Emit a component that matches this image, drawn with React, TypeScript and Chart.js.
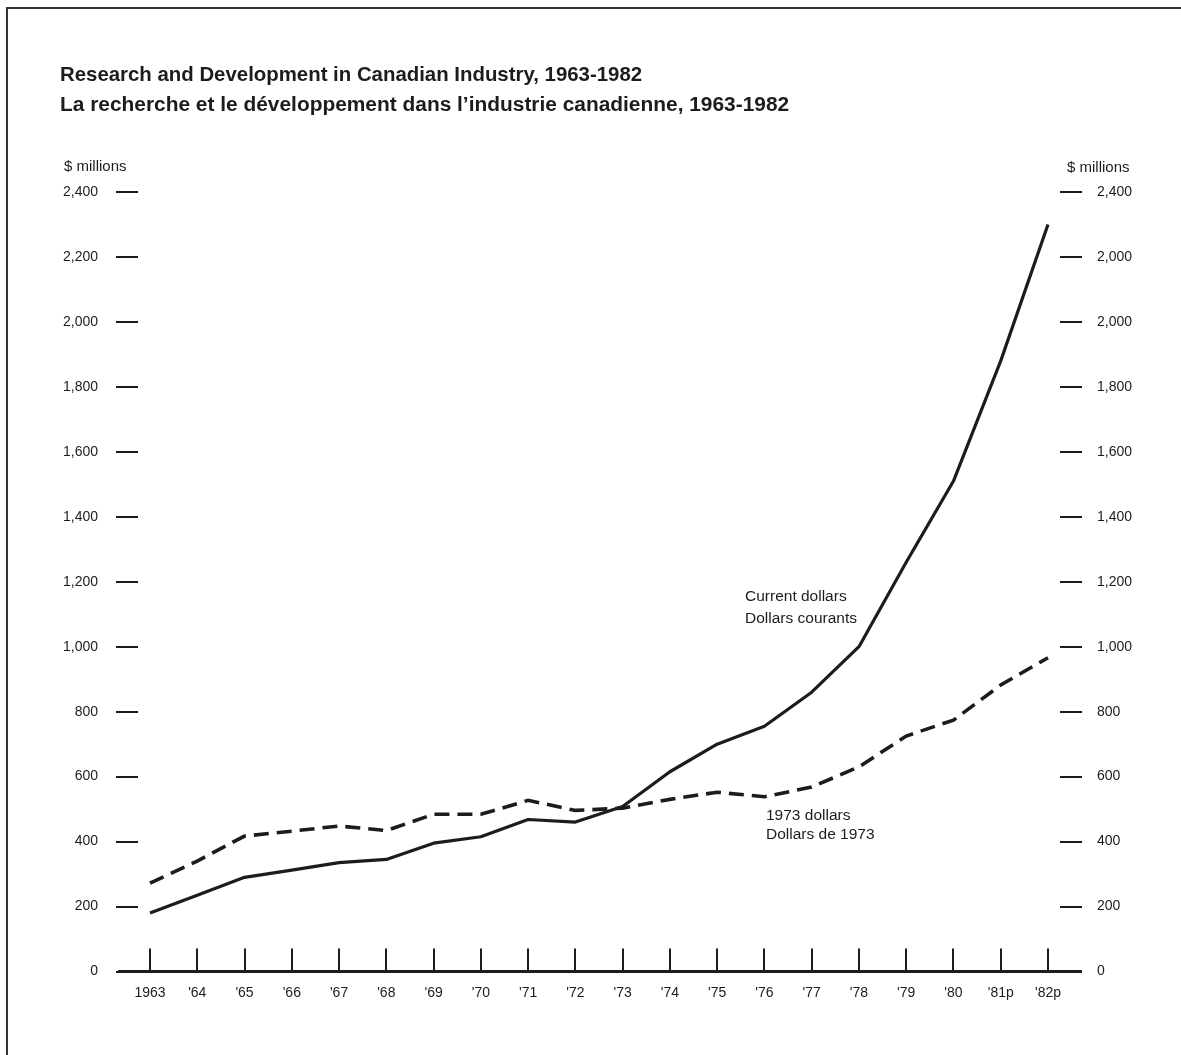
import React, { useEffect, useRef } from "react";
import { Chart, registerables } from "chart.js";

Chart.register(...registerables);

const xLabels = ["1963", "'64", "'65", "'66", "'67", "'68", "'69", "'70", "'71", "'72", "'73", "'74", "'75", "'76", "'77", "'78", "'79", "'80", "'81p", "'82p"];
const currentDollars = [180, 235, 290, 312, 335, 345, 395, 415, 468, 460, 508, 615, 700, 755, 860, 1000, 1260, 1510, 1880, 2300];
const constantDollars = [272, 340, 417, 432, 448, 434, 484, 484, 527, 496, 503, 530, 552, 538, 568, 630, 725, 774, 882, 966];
const leftTickLabels = ["0", "200", "400", "600", "800", "1,000", "1,200", "1,400", "1,600", "1,800", "2,000", "2,200", "2,400"];
const rightTickLabels = ["0", "200", "400", "600", "800", "1,000", "1,200", "1,400", "1,600", "1,800", "2,000", "2,000", "2,400"];
const titleLines = [
  "Research and Development in Canadian Industry, 1963-1982",
  "La recherche et le développement dans l’industrie canadienne, 1963-1982",
];
const unitLabel = "$ millions";
const currentLabel = ["Current dollars", "Dollars courants"];
const constantLabel = ["1973 dollars", "Dollars de 1973"];

const FONT = "'Liberation Sans', Arial, Helvetica, sans-serif";
const INK = "#1c1c1c";

const decorations = {
  id: "decorations",
  afterDraw(chart: any) {
    const ctx = chart.ctx;
    const xs = chart.scales.x;
    const ys = chart.scales.y;
    const y0 = ys.getPixelForValue(0);
    ctx.save();
    // frame (top and left edges)
    ctx.strokeStyle = "#333";
    ctx.lineWidth = 2;
    ctx.beginPath();
    ctx.moveTo(7, 1055);
    ctx.lineTo(7, 8);
    ctx.lineTo(1181, 8);
    ctx.stroke();

    // x axis line
    ctx.strokeStyle = INK;
    ctx.lineWidth = 3;
    ctx.beginPath();
    ctx.moveTo(118, y0);
    ctx.lineTo(1082, y0);
    ctx.stroke();
    // vertical year ticks
    ctx.lineWidth = 2;
    for (let i = 0; i < xLabels.length; i++) {
      const px = Math.round(xs.getPixelForValue(i));
      ctx.beginPath();
      ctx.moveTo(px, y0 - 23);
      ctx.lineTo(px, y0);
      ctx.stroke();
    }

    // titles
    ctx.fillStyle = INK;
    ctx.textBaseline = "middle";
    ctx.textAlign = "left";
    ctx.font = `bold 20.4px ${FONT}`;
    ctx.fillText(titleLines[0], 60, 75);
    ctx.font = `bold 20.9px ${FONT}`;
    ctx.fillText(titleLines[1], 60, 105);

    // unit labels
    ctx.font = `15px ${FONT}`;
    ctx.fillText(unitLabel, 64, 167);
    ctx.fillText(unitLabel, 1067, 168);

    // series annotations
    ctx.font = `15.5px ${FONT}`;
    ctx.fillText(currentLabel[0], 745, 597);
    ctx.fillText(currentLabel[1], 745, 619);
    ctx.fillText(constantLabel[0], 766, 816);
    ctx.fillText(constantLabel[1], 766, 835);
    ctx.restore();
  },
};

export default function App() {
  const ref = useRef<HTMLCanvasElement | null>(null);
  useEffect(() => {
    if (!ref.current) return;
    const chart = new Chart(ref.current, {
      type: "line",
      data: {
        datasets: [
          {
            label: "Current dollars",
            data: currentDollars.map((v, i) => ({ x: i, y: v })),
            borderColor: INK,
            borderWidth: 3.2,
            pointRadius: 0,
            tension: 0,
            fill: false,
            borderJoinStyle: "round",
            yAxisID: "y",
          },
          {
            label: "1973 dollars",
            data: constantDollars.map((v, i) => ({ x: i, y: v })),
            borderColor: INK,
            borderWidth: 3.6,
            borderDash: [15, 8],
            pointRadius: 0,
            tension: 0,
            fill: false,
            yAxisID: "y",
          },
        ],
      },
      options: {
        responsive: false,
        animation: false,
        devicePixelRatio: 1,
        layout: { padding: { top: 192, left: 0, right: 0, bottom: 0 } },
        plugins: { legend: { display: false }, tooltip: { enabled: false }, title: { display: false } },
        scales: {
          x: {
            type: "linear",
            min: -0.254,
            max: 19.254,
            afterBuildTicks: (scale: any) => {
              scale.ticks = xLabels.map((_, i) => ({ value: i }));
            },
            afterFit: (scale: any) => {
              scale.height = 83.5;
            },
            grid: { display: false },
            border: { display: false },
            ticks: {
              autoSkip: false,
              maxRotation: 0,
              padding: 5,
              color: INK,
              font: { family: FONT, size: 14 },
              callback: (v: any) => xLabels[Math.round(v)] ?? "",
            },
          },
          y: {
            type: "linear",
            position: "left",
            min: 0,
            max: 2400,
            afterFit: (scale: any) => {
              scale.width = 138;
            },
            grid: { display: true, drawOnChartArea: false, drawTicks: true, tickLength: 22, color: INK, lineWidth: 2 },
            border: { display: false },
            ticks: {
              stepSize: 200,
              padding: 18,
              color: INK,
              font: { family: FONT, size: 14 },
              callback: (_v: any, i: number) => leftTickLabels[i],
            },
          },
          y2: {
            type: "linear",
            position: "right",
            min: 0,
            max: 2400,
            afterFit: (scale: any) => {
              scale.width = 121;
            },
            grid: { display: true, drawOnChartArea: false, drawTicks: true, tickLength: 22, color: INK, lineWidth: 2 },
            border: { display: false },
            ticks: {
              stepSize: 200,
              padding: 15,
              color: INK,
              font: { family: FONT, size: 14 },
              callback: (_v: any, i: number) => rightTickLabels[i],
            },
          },
        },
      },
      plugins: [decorations],
    } as any);
    return () => chart.destroy();
  }, []);
  return (
    <div style={{ position: "fixed", left: 0, top: 0, width: 1181, height: 1055, background: "#fff" }}>
      <canvas ref={ref} width={1181} height={1055} style={{ display: "block", width: 1181, height: 1055 }} />
    </div>
  );
}
